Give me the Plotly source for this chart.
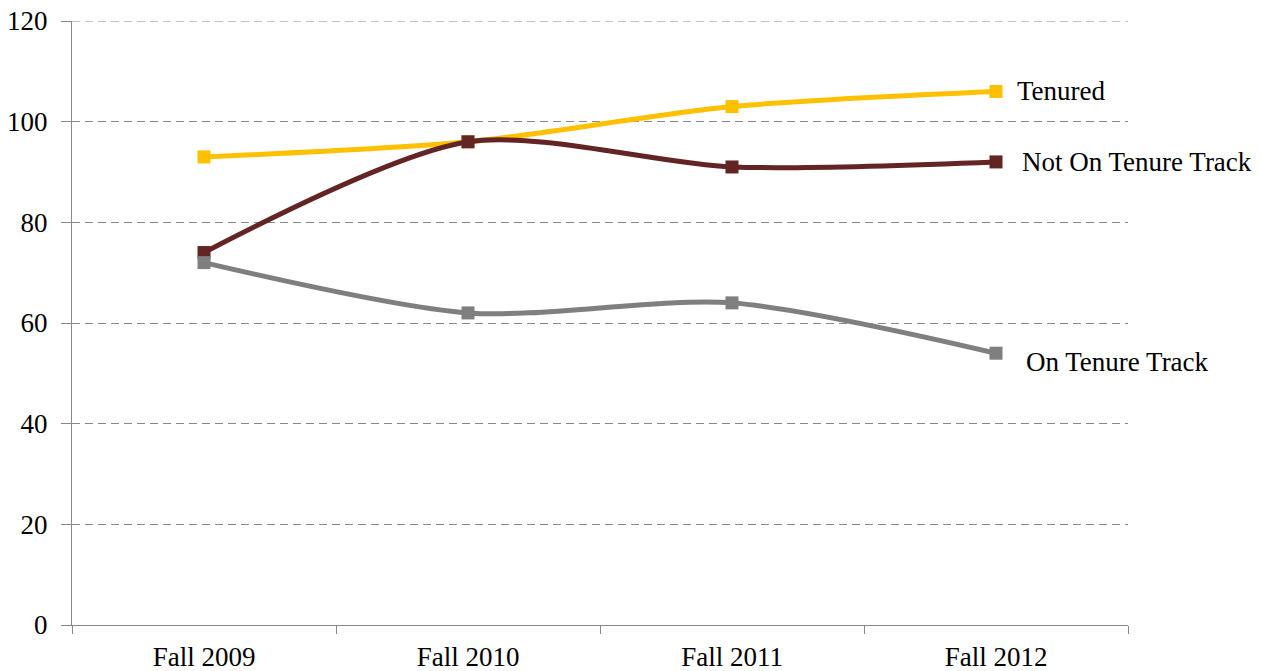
import plotly.graph_objects as go

# faculty counts by fall term
terms = ["Fall 2009", "Fall 2010", "Fall 2011", "Fall 2012"]
tenured = [93, 96, 103, 106]
not_on_track = [74, 96, 91, 92]
on_track = [72, 62, 64, 54]
y_ticks = [0, 20, 40, 60, 80, 100, 120]

# name, values, colour, label x offset, label y offset
series = [
    ("Tenured", tenured, "#FFC000", 19, 0),
    ("Not On Tenure Track", not_on_track, "#632523", 24, 0),
    ("On Tenure Track", on_track, "#7F7F7F", 28, -9),
]

font_family = "Liberation Serif"

fig = go.Figure()
for name, values, color, dx, dy in series:
    fig.add_trace(
        go.Scatter(
            x=terms,
            y=values,
            name=name,
            mode="lines+markers",
            line=dict(color=color, width=5, shape="spline", smoothing=0.8),
            marker=dict(symbol="square", size=13, color=color),
        )
    )
    fig.add_annotation(
        x=terms[-1],
        y=values[-1],
        text=name,
        showarrow=False,
        xanchor="left",
        xshift=dx,
        yshift=dy,
        font=dict(family=font_family, size=27, color="#000000"),
    )

# plotly skips the grid line at the top edge, so draw the 120 line as a shape
fig.add_shape(
    type="line",
    xref="paper",
    yref="y",
    x0=0,
    x1=1,
    y0=y_ticks[-1],
    y1=y_ticks[-1],
    line=dict(color="#888888", width=1, dash="8px,5px"),
    layer="below",
)

fig.update_layout(
    width=1261,
    height=671,
    margin=dict(l=72, r=133, t=21, b=46, autoexpand=False),
    plot_bgcolor="white",
    paper_bgcolor="white",
    showlegend=False,
    font=dict(family=font_family, size=27, color="#000000"),
)
fig.update_xaxes(
    type="category",
    range=[-0.5, 3.5],
    tickson="boundaries",
    ticks="outside",
    ticklen=8,
    tickcolor="#888888",
    showline=True,
    linecolor="#888888",
    linewidth=1,
    showgrid=False,
    automargin=False,
    ticklabelstandoff=8,
    ticklabeloverflow="allow",
)
fig.update_yaxes(
    range=[0, 120],
    tickvals=y_ticks,
    ticks="outside",
    ticklen=10,
    tickcolor="#888888",
    showline=True,
    linecolor="#888888",
    linewidth=1,
    showgrid=True,
    gridcolor="#888888",
    griddash="8px,5px",
    gridwidth=1,
    zeroline=False,
    automargin=False,
    ticklabelstandoff=8,
    ticklabeloverflow="allow",
)

# drop the default 8px body margin so the figure fills the window
fig.write_html(
    "out.html",
    config={"displayModeBar": False},
    post_script="document.body.style.margin = '0'; document.body.style.overflow = 'hidden';",
)
